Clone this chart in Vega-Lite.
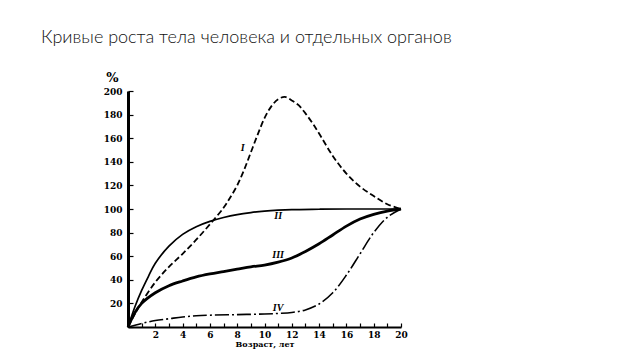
{
  "$schema": "https://vega.github.io/schema/vega-lite/v6.json",
  "width": 273,
  "height": 236,
  "autosize": "none",
  "padding": {"left": 128, "top": 91, "right": 239, "bottom": 33},
  "background": "white",
  "title": {
    "text": "Кривые роста тела человека и отдельных органов",
    "anchor": "start",
    "frame": "group",
    "dx": -87,
    "dy": -20,
    "fontSize": 18,
    "font": "Lato",
    "fontWeight": 300,
    "color": "#111111"
  },
  "config": {
    "view": {"stroke": null},
    "axis": {
      "grid": false,
      "domainColor": "black",
      "tickColor": "black",
      "labelColor": "black",
      "titleColor": "black",
      "labelFont": "DejaVu Serif",
      "labelFontWeight": "bold",
      "labelFontSize": 9,
      "titleFont": "DejaVu Serif",
      "titleFontWeight": "bold"
    }
  },
  "data": {
    "values": [
      {"series": "I", "age": 0, "pct": 0},
      {"series": "I", "age": 0.5, "pct": 11},
      {"series": "I", "age": 1, "pct": 21},
      {"series": "I", "age": 2, "pct": 38},
      {"series": "I", "age": 3, "pct": 51},
      {"series": "I", "age": 4, "pct": 62},
      {"series": "I", "age": 5, "pct": 74},
      {"series": "I", "age": 6, "pct": 87},
      {"series": "I", "age": 7, "pct": 101},
      {"series": "I", "age": 7.5, "pct": 110},
      {"series": "I", "age": 8, "pct": 120},
      {"series": "I", "age": 8.5, "pct": 133},
      {"series": "I", "age": 9, "pct": 148},
      {"series": "I", "age": 9.5, "pct": 163},
      {"series": "I", "age": 10, "pct": 177},
      {"series": "I", "age": 10.5, "pct": 187},
      {"series": "I", "age": 11, "pct": 193},
      {"series": "I", "age": 11.5, "pct": 195},
      {"series": "I", "age": 12, "pct": 192},
      {"series": "I", "age": 12.5, "pct": 188},
      {"series": "I", "age": 13, "pct": 181},
      {"series": "I", "age": 13.5, "pct": 173},
      {"series": "I", "age": 14, "pct": 164},
      {"series": "I", "age": 15, "pct": 145},
      {"series": "I", "age": 16, "pct": 130},
      {"series": "I", "age": 17, "pct": 119},
      {"series": "I", "age": 18, "pct": 111},
      {"series": "I", "age": 19, "pct": 104},
      {"series": "I", "age": 20, "pct": 100},
      {"series": "II", "age": 0, "pct": 0},
      {"series": "II", "age": 0.5, "pct": 17},
      {"series": "II", "age": 1, "pct": 31},
      {"series": "II", "age": 1.5, "pct": 43},
      {"series": "II", "age": 2, "pct": 54},
      {"series": "II", "age": 3, "pct": 68.5},
      {"series": "II", "age": 4, "pct": 78.5},
      {"series": "II", "age": 5, "pct": 85},
      {"series": "II", "age": 6, "pct": 89.5},
      {"series": "II", "age": 7, "pct": 92.8},
      {"series": "II", "age": 8, "pct": 95.3},
      {"series": "II", "age": 9, "pct": 97},
      {"series": "II", "age": 10, "pct": 98.2},
      {"series": "II", "age": 11, "pct": 99},
      {"series": "II", "age": 12, "pct": 99.5},
      {"series": "II", "age": 14, "pct": 99.8},
      {"series": "II", "age": 16, "pct": 100},
      {"series": "II", "age": 18, "pct": 100},
      {"series": "II", "age": 20, "pct": 100},
      {"series": "III", "age": 0, "pct": 0},
      {"series": "III", "age": 0.5, "pct": 12},
      {"series": "III", "age": 1, "pct": 20},
      {"series": "III", "age": 2, "pct": 29},
      {"series": "III", "age": 3, "pct": 35},
      {"series": "III", "age": 4, "pct": 39},
      {"series": "III", "age": 5, "pct": 42.5},
      {"series": "III", "age": 6, "pct": 45},
      {"series": "III", "age": 7, "pct": 47},
      {"series": "III", "age": 8, "pct": 49},
      {"series": "III", "age": 9, "pct": 51},
      {"series": "III", "age": 10, "pct": 52.5},
      {"series": "III", "age": 11, "pct": 55},
      {"series": "III", "age": 12, "pct": 58.5},
      {"series": "III", "age": 13, "pct": 64},
      {"series": "III", "age": 14, "pct": 70.5},
      {"series": "III", "age": 15, "pct": 78},
      {"series": "III", "age": 16, "pct": 85.5},
      {"series": "III", "age": 17, "pct": 91.5},
      {"series": "III", "age": 18, "pct": 95.5},
      {"series": "III", "age": 19, "pct": 98.3},
      {"series": "III", "age": 20, "pct": 100},
      {"series": "IV", "age": 0, "pct": 0},
      {"series": "IV", "age": 1, "pct": 3},
      {"series": "IV", "age": 2, "pct": 5.5},
      {"series": "IV", "age": 3, "pct": 7},
      {"series": "IV", "age": 4, "pct": 8.5},
      {"series": "IV", "age": 5, "pct": 9.5},
      {"series": "IV", "age": 6, "pct": 10},
      {"series": "IV", "age": 8, "pct": 10.5},
      {"series": "IV", "age": 10, "pct": 11},
      {"series": "IV", "age": 11, "pct": 11.5},
      {"series": "IV", "age": 12, "pct": 12.3},
      {"series": "IV", "age": 13, "pct": 14.5},
      {"series": "IV", "age": 14, "pct": 19.5},
      {"series": "IV", "age": 15, "pct": 29},
      {"series": "IV", "age": 16, "pct": 44},
      {"series": "IV", "age": 17, "pct": 62},
      {"series": "IV", "age": 18, "pct": 80},
      {"series": "IV", "age": 19, "pct": 93},
      {"series": "IV", "age": 20, "pct": 100}
    ]
  },
  "encoding": {
    "x": {
      "field": "age",
      "type": "quantitative",
      "scale": {"domain": [0, 20], "nice": false},
      "axis": {
        "title": "Возраст, лет",
        "titleFontSize": 8,
        "titlePadding": 1,
        "values": [0,1,2,3,4,5,6,7,8,9,10,11,12,13,14,15,16,17,18,19,20],
        "labelExpr": "datum.value > 0 && datum.value % 2 == 0 ? datum.label : ''",
        "tickSize": -4,
        "tickWidth": 1.2,
        "labelPadding": 7,
        "domainWidth": 2,
        "labelFlush": false
      }
    },
    "y": {
      "field": "pct",
      "type": "quantitative",
      "scale": {"domain": [0, 200], "nice": false},
      "axis": {
        "title": "%",
        "titleAngle": 0,
        "titleX": -16,
        "titleY": -14,
        "titleAlign": "center",
        "titleBaseline": "middle",
        "titleFontSize": 13,
        "values": [0,20,40,60,80,100,120,140,160,180,200],
        "labelExpr": "datum.value == 0 ? '' : datum.label",
        "tickSize": -5,
        "tickWidth": 1.2,
        "labelPadding": 11,
        "domainWidth": 3,
        "labelFlush": false
      }
    }
  },
  "layer": [
    {
      "data": {"values": [{"pct": 100}]},
      "mark": {"type": "rule", "color": "black", "strokeWidth": 1.3},
      "encoding": {
        "x": {"datum": 0, "type": "quantitative"},
        "x2": {"datum": 20}
      }
    },
    {
      "transform": [{"filter": "datum.series == 'I'"}],
      "mark": {"type": "line", "interpolate": "catmull-rom", "color": "black", "strokeWidth": 1.8, "strokeDash": [6, 3]}
    },
    {
      "transform": [{"filter": "datum.series == 'II'"}],
      "mark": {"type": "line", "interpolate": "catmull-rom", "color": "black", "strokeWidth": 1.7}
    },
    {
      "transform": [{"filter": "datum.series == 'III'"}],
      "mark": {"type": "line", "interpolate": "catmull-rom", "color": "black", "strokeWidth": 2.8}
    },
    {
      "transform": [{"filter": "datum.series == 'IV'"}],
      "mark": {"type": "line", "interpolate": "catmull-rom", "color": "black", "strokeWidth": 1.6, "strokeDash": [14, 3, 2, 3]}
    },
    {
      "data": {
        "values": [
          {"label": "I", "age": 8.4, "pct": 152},
          {"label": "II", "age": 11.0, "pct": 94},
          {"label": "III", "age": 11.0, "pct": 61},
          {"label": "IV", "age": 11.0, "pct": 16.5}
        ]
      },
      "mark": {"type": "text", "font": "Liberation Serif", "fontStyle": "italic", "fontWeight": "bold", "fontSize": 10, "color": "black", "baseline": "middle", "align": "center"},
      "encoding": {
        "text": {"field": "label"}
      }
    }
  ]
}
